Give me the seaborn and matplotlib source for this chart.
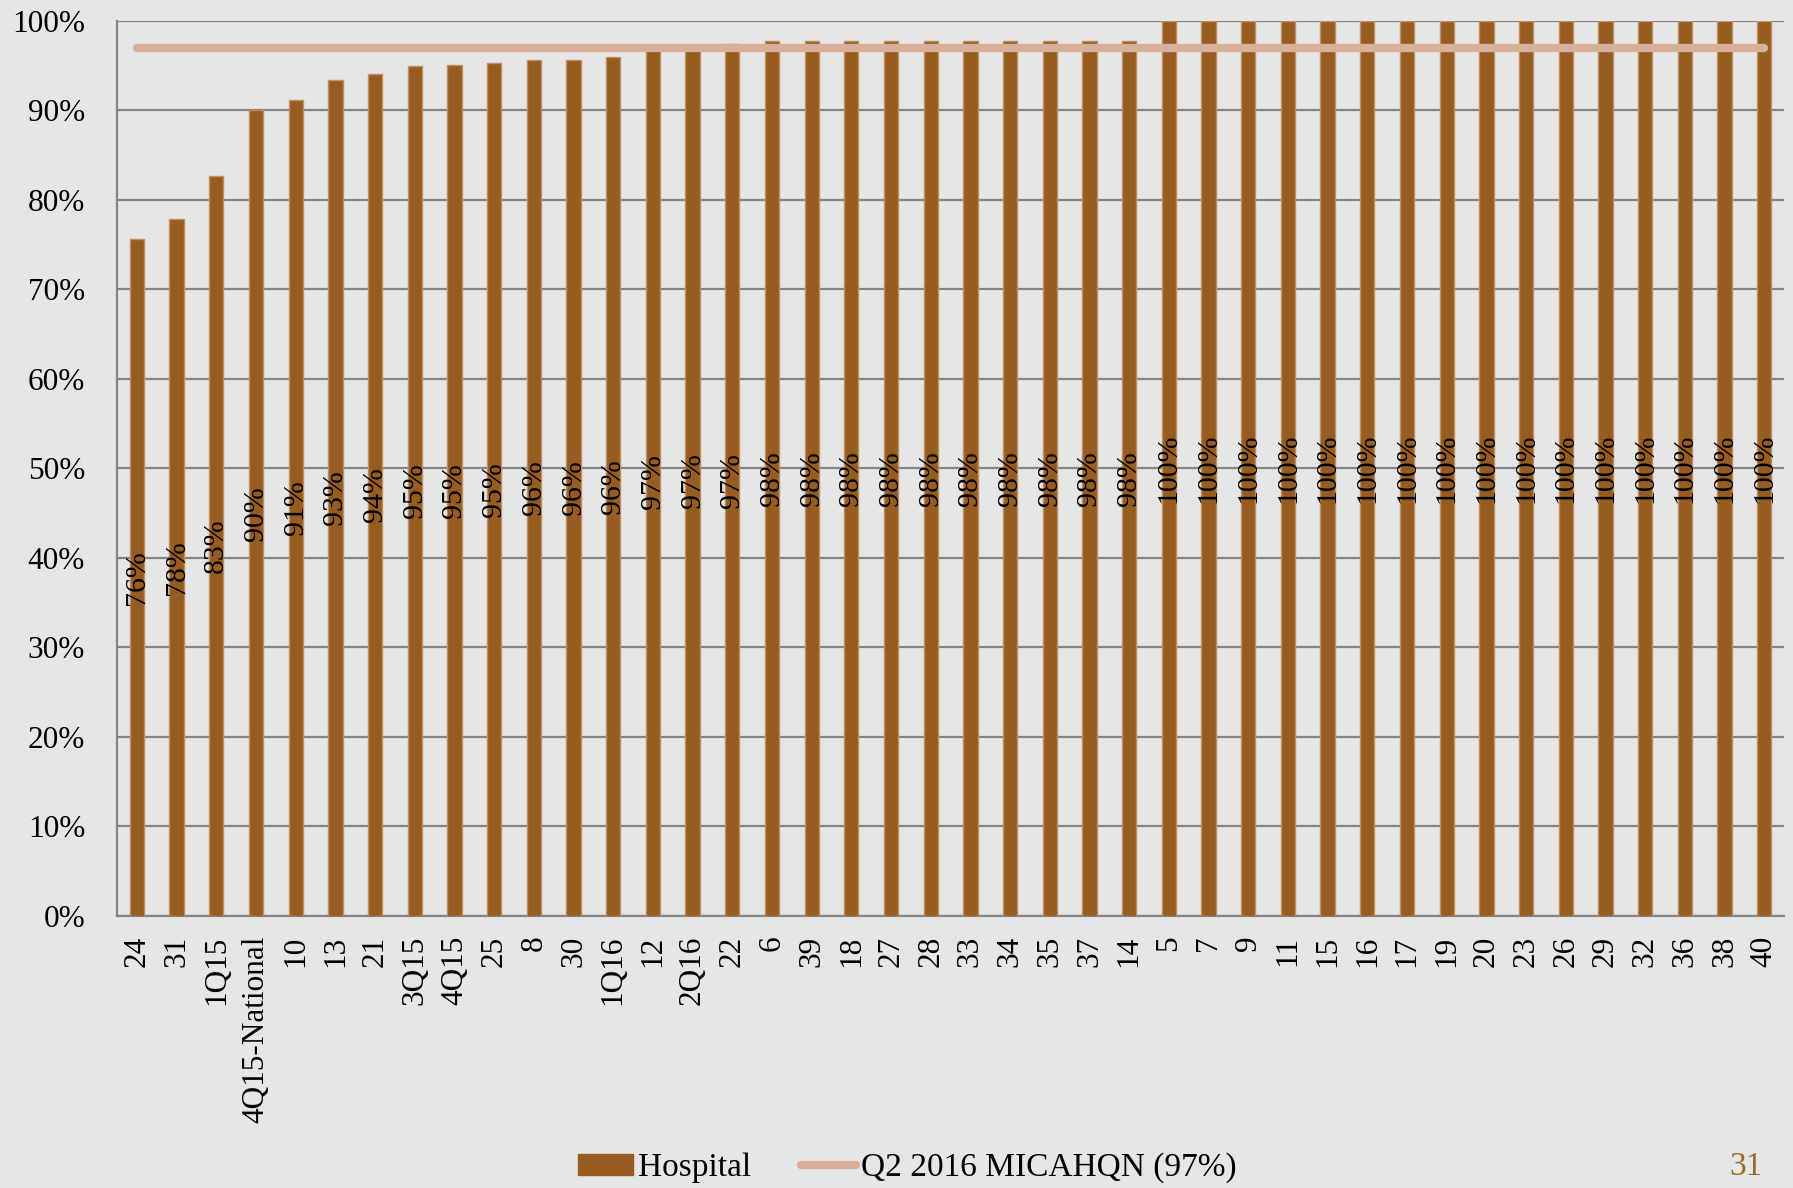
import matplotlib
matplotlib.use("Agg")
import matplotlib.pyplot as plt
from matplotlib.patches import Patch
from matplotlib.lines import Line2D
import seaborn as sns
import numpy as np
import pandas as pd

categories = ["24", "31", "1Q15", "4Q15-National", "10", "13", "21", "3Q15", "4Q15", "25",
              "8", "30", "1Q16", "12", "2Q16", "22", "6", "39", "18", "27", "28", "33", "34",
              "35", "37", "14", "5", "7", "9", "11", "15", "16", "17", "19", "20", "23", "26",
              "29", "32", "36", "38", "40"]
hospital = [75.6, 77.9, 82.7, 90.0, 91.2, 93.4, 94.1, 95.0, 95.1, 95.3,
            95.6, 95.6, 96.0, 97.0, 97.3, 97.4, 97.8, 97.8, 97.8, 97.8, 97.8, 97.8, 97.8,
            97.8, 97.8, 97.8, 100, 100, 100, 100, 100, 100, 100, 100, 100, 100, 100,
            100, 100, 100, 100, 100]
value_labels = ["76%", "78%", "83%", "90%", "91%", "93%", "94%", "95%", "95%", "95%",
                "96%", "96%", "96%", "97%", "97%", "97%", "98%", "98%", "98%", "98%", "98%",
                "98%", "98%", "98%", "98%", "98%"] + ["100%"] * 16
benchmark = [97.0] * len(categories)
y_ticks = [0, 10, 20, 30, 40, 50, 60, 70, 80, 90, 100]
y_tick_labels = [f"{t}%" for t in y_ticks]
series_names = ["Hospital", "Q2 2016 MICAHQN (97%)"]
page_number = "31"

BAR = "#975D20"
LINE = "#D8AF99"
BG = "#E6E6E6"
GRID = "#858585"

sns.set_theme(style="white")
plt.rcParams["font.family"] = ["Liberation Serif", "DejaVu Serif"]

df = pd.DataFrame({"cat": categories, "val": hospital})

fig = plt.figure(figsize=(17.93, 11.88), dpi=100, facecolor=BG)
ax = fig.add_axes([0.0653, 0.229, 0.9297, 0.7534])
ax.set_facecolor(BG)

sns.barplot(data=df, x="cat", y="val", order=categories, color=BAR, width=0.36,
            saturation=1, edgecolor="#BC9060", linewidth=1.0, ax=ax, zorder=3)
sns.lineplot(x=np.arange(len(categories)), y=benchmark, color=LINE, linewidth=6,
             solid_capstyle="round", ax=ax, zorder=4)

for i, (v, lab) in enumerate(zip(hospital, value_labels)):
    ax.text(i, v / 2, lab, rotation=90, ha="center", va="center", fontsize=21.5,
            color="black", zorder=5)

ax.set_xlim(-0.5, len(categories) - 0.5)
ax.set_ylim(0, 100)
ax.set_yticks(y_ticks)
ax.set_yticklabels(y_tick_labels, fontsize=22.5, color="black")
ax.yaxis.grid(True, color=GRID, linewidth=1.6, zorder=0)
ax.set_axisbelow(True)
ax.tick_params(axis="y", length=0, pad=23)
ax.tick_params(axis="x", length=0, pad=14)
ax.set_xticks(range(len(categories)))
ax.set_xticklabels(categories, rotation=90, fontsize=22.5, color="black", va="top", ha="center")
ax.set_xlabel("")
ax.set_ylabel("")

for side in ["top", "right"]:
    ax.spines[side].set_visible(False)
for side in ["left", "bottom"]:
    ax.spines[side].set_color(GRID)
    ax.spines[side].set_linewidth(1.6)

handles = [Patch(facecolor=BAR, edgecolor=BAR),
           Line2D([0], [0], color=LINE, linewidth=6, solid_capstyle="round")]
fig.legend(handles, series_names, loc="center", bbox_to_anchor=(0.506, 0.017), ncol=2,
           frameon=False, fontsize=24, handlelength=1.65, handleheight=0.6,
           handletextpad=0.15, columnspacing=1.5, labelcolor="black")

fig.text(0.974, 0.018, page_number, fontsize=24, color="#9A6A2A", ha="center", va="center")

fig.savefig("out.png", dpi=100, facecolor=BG)
